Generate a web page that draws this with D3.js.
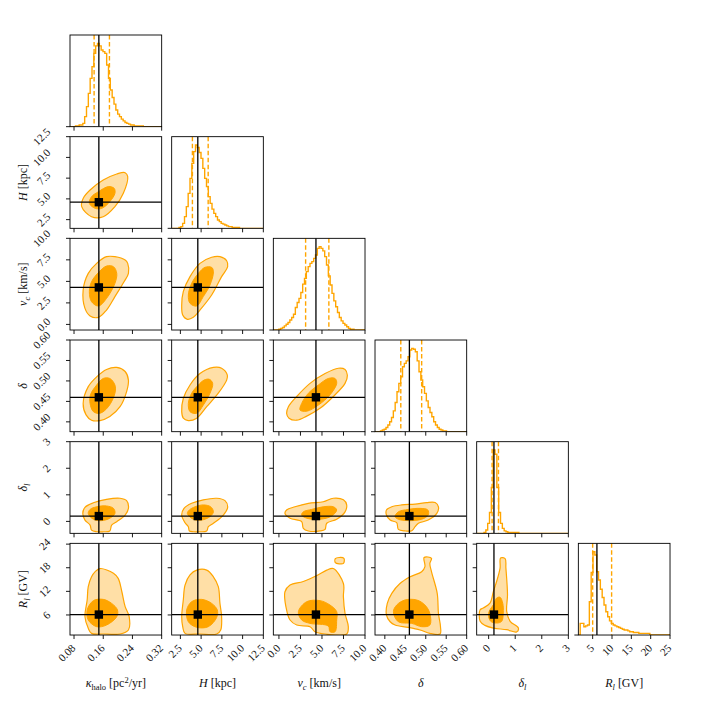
<!DOCTYPE html>
<html><head><meta charset="utf-8">
<script src="https://cdn.jsdelivr.net/npm/d3@7"></script>
<style>body{margin:0;background:#fff} svg{display:block} text{font-family:"Liberation Serif","DejaVu Serif",serif;fill:#111}</style>
</head><body><svg id="c" width="706" height="706"></svg>
<script>
// ---------------- DATA ----------------
const paramNames = ["kappa","H","vc","delta","deltal","Rl"];
const colDomain = [[0.069,0.32],[1.45,12.5],[-0.65,10],[0.376,0.60],[-0.45,3],[1.3,25]];
const rowDomain = [[0.069,0.32],[1.45,12.5],[-0.65,10],[0.376,0.60],[-0.45,3],[0.9,24.2]];
const truths  = [0.148, 4.6, 4.3, 0.46, 0.2, 6.1];
const quantLo = [0.135, 3.95, 3.1, 0.439, 0.13, 5.0];
const quantHi = [0.177, 5.85, 5.8, 0.490, 0.37, 9.9];
const xTickVals = [[0.08,0.16,0.24,0.32],[2.5,5,7.5,10,12.5],[0,2.5,5,7.5,10],[0.40,0.45,0.50,0.55,0.60],[0,1,2,3],[5,10,15,20,25]];
const yTickVals = [[0.08,0.16,0.24,0.32],[2.5,5,7.5,10,12.5],[0,2.5,5,7.5,10],[0.40,0.45,0.50,0.55,0.60],[0,1,2,3],[6,12,18,24]];
const tickFmt = [".2f",".1f",".1f",".2f","d","d"];

// histogram counts (50 bins across each column range)
const histKappa  = [0,0,0,1,1,2,2,4,12,24,40,58,72,88,97,100,97,92,90,88,74,58,44,35,27,20,15,12,9,7,5,4,3,2,2,1,1,1,1,1,0,0,0,0,0,0,0,0,0,0];
const histH      = [0,0,0,0,1,2,6,14,26,42,60,78,92,100,97,91,84,72,60,50,38,30,23,18,14,10,8,6,5,4,3,2,2,1,1,1,1,0,0,0,0,0,0,0,0,0,0,0,0,0];
const histVc     = [0,0,0,1,2,3,5,7,9,12,15,19,27,33,38,45,55,62,70,76,80,82,86,90,98,100,98,95,88,78,65,54,44,35,28,21,15,11,8,6,4,2,1,1,0,0,0,0,0,0];
const histDelta  = [0,0,0,1,2,3,5,8,12,17,25,35,48,58,66,78,82,85,90,98,100,99,96,85,72,62,54,46,37,29,23,18,12,8,5,3,2,1,1,0,0,0,0,0,0,0,0,0,0,0];
const histDeltal = [0,0,0,0,1,4,12,25,55,100,95,55,25,12,6,3,2,1,1,1,1,1,1,0,0,0,0,0,0,0,0,0,0,0,0,0,0,0,0,0,0,0,0,0,0,0,0,0,0,0];
const histRl     = [0,14,14,10,11,12,40,75,100,96,76,66,55,45,36,28,22,17,14,12,11,10,9,8,7,6,6,5,4,4,3,3,3,2,2,2,2,2,2,0,0,0,0,0,0,0,0,0,0,0];

// 2D credible contours (outer = 2 sigma, inner = 1 sigma), data units [x, y]
const H_kappa_outer = [[0.101,4.06],[0.128,2.85],[0.160,2.85],[0.192,4.06],[0.215,5.67],[0.227,7.68],[0.220,8.16],[0.197,8.0],[0.160,7.27],[0.124,6.07],[0.105,5.06]];
const H_kappa_inner = [[0.122,4.46],[0.138,3.86],[0.156,3.86],[0.178,4.67],[0.192,5.67],[0.190,6.27],[0.174,6.48],[0.147,5.87],[0.128,5.26]];
const vc_kappa_outer = [[0.105,4.0],[0.110,1.86],[0.124,0.98],[0.147,0.82],[0.169,1.67],[0.192,3.23],[0.217,4.96],[0.229,5.93],[0.227,7.09],[0.220,7.48],[0.192,7.87],[0.169,7.87],[0.142,7.09],[0.119,5.93]];
const vc_kappa_inner = [[0.122,3.8],[0.128,2.64],[0.147,2.14],[0.169,3.02],[0.192,4.77],[0.197,5.93],[0.188,6.71],[0.169,6.78],[0.149,6.12],[0.128,4.96]];
const vc_H_outer = [[2.66,2.26],[2.78,1.09],[3.34,0.59],[4.06,0.82],[4.86,1.67],[6.27,3.42],[7.47,5.55],[8.2,6.71],[8.08,7.4],[7.27,7.87],[6.27,7.8],[4.86,7.09],[3.66,5.55],[2.85,3.8]];
const vc_H_inner = [[3.46,3.42],[3.66,2.45],[4.47,2.14],[5.26,3.23],[6.07,4.58],[6.48,6.12],[6.27,6.63],[5.47,6.63],[4.67,5.93],[3.86,4.77]];
const delta_kappa_outer = [[0.105,0.445],[0.113,0.417],[0.128,0.404],[0.151,0.403],[0.178,0.413],[0.206,0.437],[0.224,0.474],[0.229,0.502],[0.220,0.523],[0.197,0.533],[0.169,0.528],[0.142,0.510],[0.119,0.486]];
const delta_kappa_inner = [[0.124,0.445],[0.133,0.425],[0.151,0.421],[0.174,0.437],[0.192,0.470],[0.192,0.490],[0.178,0.506],[0.160,0.506],[0.142,0.490],[0.125,0.466]];
const delta_H_outer = [[2.66,0.425],[2.85,0.409],[3.46,0.403],[4.47,0.409],[5.67,0.437],[7.07,0.470],[8.08,0.502],[8.16,0.514],[7.47,0.531],[6.48,0.533],[4.86,0.518],[3.66,0.490],[2.85,0.457]];
const delta_H_inner = [[3.46,0.445],[3.66,0.425],[4.47,0.421],[5.26,0.441],[6.07,0.470],[6.39,0.494],[5.99,0.504],[5.35,0.502],[4.67,0.490],[3.86,0.470]];
const delta_vc_outer = [[0.89,0.421],[1.17,0.409],[2.07,0.404],[3.23,0.414],[4.77,0.433],[6.32,0.462],[7.68,0.494],[7.95,0.514],[7.68,0.528],[6.9,0.531],[5.36,0.518],[3.61,0.494],[2.07,0.462],[1.10,0.437]];
const delta_vc_inner = [[2.45,0.429],[3.23,0.426],[4.58,0.441],[5.93,0.466],[6.71,0.494],[6.52,0.506],[5.74,0.506],[4.58,0.490],[3.42,0.470],[2.64,0.445]];
const deltal_kappa_outer = [[0.104,0.30],[0.110,0.05],[0.124,-0.14],[0.128,-0.33],[0.142,-0.39],[0.160,-0.39],[0.178,-0.36],[0.183,-0.14],[0.197,-0.01],[0.220,0.24],[0.229,0.49],[0.224,0.78],[0.206,0.87],[0.169,0.83],[0.133,0.70],[0.110,0.53]];
const deltal_kappa_inner = [[0.119,0.30],[0.133,0.08],[0.156,0.03],[0.178,0.12],[0.192,0.30],[0.188,0.49],[0.169,0.58],[0.142,0.55],[0.124,0.45]];
const deltal_H_outer = [[2.66,0.24],[3.06,-0.05],[3.46,-0.20],[3.58,-0.36],[4.06,-0.39],[4.86,-0.39],[5.67,-0.36],[5.87,-0.20],[6.48,-0.07],[7.68,0.24],[8.2,0.53],[7.88,0.78],[6.88,0.87],[5.26,0.81],[3.86,0.68],[2.94,0.49]];
const deltal_H_inner = [[3.34,0.30],[4.06,0.08],[5.06,0.05],[6.07,0.18],[6.48,0.36],[6.15,0.55],[5.26,0.62],[4.27,0.55],[3.58,0.43]];
const deltal_vc_outer = [[0.70,0.30],[1.29,0.12],[2.64,-0.01],[2.83,-0.26],[3.42,-0.36],[4.77,-0.36],[5.36,-0.30],[5.55,-0.07],[6.71,0.08],[7.68,0.36],[7.87,0.62],[7.49,0.81],[6.32,0.87],[5.15,0.74],[3.42,0.68],[1.86,0.55],[0.89,0.43]];
const deltal_vc_inner = [[2.64,0.24],[3.23,0.12],[4.77,0.08],[6.12,0.20],[6.71,0.43],[6.32,0.55],[5.15,0.55],[3.80,0.45],[2.83,0.36]];
const deltal_delta_outer = [[0.404,0.24],[0.413,0.05],[0.429,-0.05],[0.433,-0.30],[0.449,-0.36],[0.466,-0.35],[0.474,-0.20],[0.482,-0.07],[0.506,0.05],[0.527,0.30],[0.531,0.55],[0.523,0.71],[0.502,0.71],[0.474,0.65],[0.441,0.62],[0.417,0.55],[0.404,0.43]];
const deltal_delta_inner = [[0.425,0.18],[0.433,0.08],[0.457,0.03],[0.490,0.08],[0.506,0.24],[0.505,0.43],[0.486,0.49],[0.457,0.45],[0.433,0.36]];
const Rl_kappa_outer = [[0.119,13.2],[0.116,9.8],[0.110,5.56],[0.119,2.6],[0.128,1.32],[0.160,1.16],[0.206,1.16],[0.229,2.18],[0.231,5.56],[0.220,8.1],[0.211,11.9],[0.201,15.3],[0.188,16.6],[0.151,17.8],[0.138,17.0],[0.128,15.7]];
const Rl_kappa_inner = [[0.116,7.26],[0.119,4.72],[0.142,3.02],[0.169,3.44],[0.197,5.56],[0.199,7.26],[0.183,8.94],[0.160,9.96],[0.133,9.64]];
const Rl_H_outer = [[3.06,13.6],[2.85,9.8],[2.66,5.56],[2.78,3.02],[3.06,1.32],[4.86,1.16],[6.88,1.16],[7.36,2.18],[7.47,5.56],[7.27,8.94],[7.07,13.2],[6.48,15.7],[5.67,17.4],[4.47,17.4],[3.66,16.2]];
const Rl_H_inner = [[3.26,7.26],[3.46,4.28],[4.47,2.86],[5.87,3.02],[6.88,5.4],[6.95,7.26],[6.27,8.94],[5.06,9.96],[3.86,9.38]];
const Rl_vc_outer = [[0.70,11.9],[0.89,7.26],[1.29,4.72],[2.07,3.44],[3.61,3.02],[4.19,1.74],[5.36,1.16],[7.87,1.16],[8.06,3.02],[7.68,6.4],[7.49,10.6],[7.49,14.0],[6.32,17.8],[5.55,17.4],[4.58,16.2],[2.83,14.5],[1.29,13.6]];
const Rl_vc_island = [[6.55,20.3],[6.55,19.3],[7.0,19.0],[7.5,19.1],[7.55,20.4],[7.0,20.6]];
const Rl_vc_inner = [[2.26,6.84],[2.64,4.72],[3.61,3.86],[5.74,3.18],[5.93,1.74],[6.52,1.74],[6.71,4.72],[6.71,6.84],[5.93,8.52],[4.77,9.64],[3.23,9.38]];
const Rl_delta_outer = [[0.404,5.98],[0.413,4.28],[0.425,3.44],[0.457,2.86],[0.486,2.18],[0.510,1.32],[0.535,1.16],[0.536,3.02],[0.531,6.4],[0.528,11.5],[0.514,17.0],[0.510,19.1],[0.514,20.4],[0.496,20.6],[0.498,18.3],[0.490,17.0],[0.462,15.7],[0.437,14.0],[0.417,11.5],[0.406,8.94]];
const Rl_delta_inner = [[0.421,6.84],[0.433,4.28],[0.466,3.86],[0.490,3.02],[0.510,3.44],[0.510,6.4],[0.498,8.52],[0.478,9.8],[0.449,9.8],[0.429,8.52]];
const Rl_deltal_outer = [[-0.32,7.33],[-0.32,4.37],[-0.14,3.35],[0.18,2.67],[0.68,2.25],[1.05,1.67],[1.12,2.67],[0.81,4.37],[0.68,6.91],[0.71,11.15],[0.65,17.9],[0.62,20.3],[0.45,20.5],[0.43,17.9],[0.30,14.5],[0.18,12.0],[0.05,9.0],[-0.20,7.77]];
const Rl_deltal_inner = [[-0.01,6.07],[0.08,4.37],[0.30,3.95],[0.49,4.37],[0.55,6.5],[0.53,9.0],[0.43,10.5],[0.30,10.3],[0.18,8.6],[0.05,7.33]];

const axisLabels = [
  [["κ","i"],["halo","sub-r"],[" [pc","r"],["2","sup"],["/yr]","r"]],
  [["H","i"],[" [kpc]","r"]],
  [["v","i"],["c","sub-i"],[" [km/s]","r"]],
  [["δ","i"]],
  [["δ","i"],["l","sub-i"]],
  [["R","i"],["l","sub-i"],[" [GV]","r"]]
];

// ---------------- BUILD ----------------
const hists = [histKappa, histH, histVc, histDelta, histDeltal, histRl];
const contourPanels = [
  {r:1,c:0,outer:[H_kappa_outer],inner:[H_kappa_inner]},
  {r:2,c:0,outer:[vc_kappa_outer],inner:[vc_kappa_inner]},
  {r:2,c:1,outer:[vc_H_outer],inner:[vc_H_inner]},
  {r:3,c:0,outer:[delta_kappa_outer],inner:[delta_kappa_inner]},
  {r:3,c:1,outer:[delta_H_outer],inner:[delta_H_inner]},
  {r:3,c:2,outer:[delta_vc_outer],inner:[delta_vc_inner]},
  {r:4,c:0,outer:[deltal_kappa_outer],inner:[deltal_kappa_inner]},
  {r:4,c:1,outer:[deltal_H_outer],inner:[deltal_H_inner]},
  {r:4,c:2,outer:[deltal_vc_outer],inner:[deltal_vc_inner]},
  {r:4,c:3,outer:[deltal_delta_outer],inner:[deltal_delta_inner]},
  {r:5,c:0,outer:[Rl_kappa_outer],inner:[Rl_kappa_inner]},
  {r:5,c:1,outer:[Rl_H_outer],inner:[Rl_H_inner]},
  {r:5,c:2,outer:[Rl_vc_outer,Rl_vc_island],inner:[Rl_vc_inner]},
  {r:5,c:3,outer:[Rl_delta_outer],inner:[Rl_delta_inner]},
  {r:5,c:4,outer:[Rl_deltal_outer],inner:[Rl_deltal_inner]}
];

const N = 6, left0 = 70, top0 = 35, size = 91.67, step = 101.67;
const orange = "#ffa500", light = "#ffdfa6";
const svg = d3.select("#c");
const xS = j => d3.scaleLinear().domain(colDomain[j]).range([0, size]);
const yS = i => d3.scaleLinear().domain(rowDomain[i]).range([size, 0]);
const TL = 4;

function panel(i, j) {
  const g = svg.append("g").attr("transform", `translate(${left0 + j*step},${top0 + i*step})`);
  const id = `clip${i}${j}`;
  g.append("clipPath").attr("id", id).append("rect").attr("width", size).attr("height", size);
  const inner = g.append("g").attr("clip-path", `url(#${id})`);
  return {g, inner};
}

// diagonal histograms
for (let k = 0; k < N; k++) {
  const {g, inner} = panel(k, k);
  const x = xS(k);
  const counts = hists[k];
  const [lo, hi] = colDomain[k];
  const w = (hi - lo) / counts.length;
  const y = d3.scaleLinear().domain([0, 1.1 * d3.max(counts)]).range([size, 0]);
  const pts = [[lo, 0]];
  counts.forEach((c, b) => { pts.push([lo + b*w, c]); pts.push([lo + (b+1)*w, c]); });
  pts.push([hi, 0]);
  inner.append("path").attr("d", d3.line().x(d => x(d[0])).y(d => y(d[1]))(pts))
    .attr("fill", "none").attr("stroke", orange).attr("stroke-width", 1.4).attr("stroke-linejoin", "miter");
  [quantLo[k], quantHi[k]].forEach(q => {
    inner.append("line").attr("x1", x(q)).attr("x2", x(q)).attr("y1", 0).attr("y2", size)
      .attr("stroke", orange).attr("stroke-width", 1.4).attr("stroke-dasharray", "4.5,2.5");
  });
  inner.append("line").attr("x1", x(truths[k])).attr("x2", x(truths[k])).attr("y1", 0).attr("y2", size)
    .attr("stroke", "#000").attr("stroke-width", 1.3);
  g.append("line").attr("x1", -TL).attr("x2", 0).attr("y1", y(0)).attr("y2", y(0)).attr("stroke", "#000").attr("stroke-width", 0.9);
}

// 2D panels
const curve = d3.line().curve(d3.curveCatmullRomClosed.alpha(0.5));
contourPanels.forEach(p => {
  const {g, inner} = panel(p.r, p.c);
  const x = xS(p.c), y = yS(p.r);
  const toPx = poly => poly.map(d => [x(d[0]), y(d[1])]);
  p.outer.forEach(poly => inner.append("path").attr("d", curve(toPx(poly)))
    .attr("fill", light).attr("stroke", orange).attr("stroke-width", 1.2));
  p.inner.forEach(poly => inner.append("path").attr("d", curve(toPx(poly)))
    .attr("fill", orange).attr("stroke", orange).attr("stroke-width", 1.0));
  const tx = x(truths[p.c]), ty = y(truths[p.r]);
  inner.append("line").attr("x1", tx).attr("x2", tx).attr("y1", 0).attr("y2", size).attr("stroke", "#000").attr("stroke-width", 1.3);
  inner.append("line").attr("x1", 0).attr("x2", size).attr("y1", ty).attr("y2", ty).attr("stroke", "#000").attr("stroke-width", 1.3);
  inner.append("rect").attr("x", tx - 4.2).attr("y", ty - 4.2).attr("width", 8.4).attr("height", 8.4).attr("fill", "#000");
  yTickVals[p.r].forEach(v => {
    g.append("line").attr("x1", -TL).attr("x2", 0).attr("y1", y(v)).attr("y2", y(v)).attr("stroke", "#000").attr("stroke-width", 0.9);
  });
});

// frames, x ticks
for (let i = 0; i < N; i++) {
  for (let j = 0; j <= i; j++) {
    const g = svg.append("g").attr("transform", `translate(${left0 + j*step},${top0 + i*step})`);
    g.append("rect").attr("width", size).attr("height", size).attr("fill", "none").attr("stroke", "#000").attr("stroke-width", 0.9);
    const x = xS(j);
    xTickVals[j].forEach(v => {
      g.append("line").attr("x1", x(v)).attr("x2", x(v)).attr("y1", size).attr("y2", size + TL).attr("stroke", "#000").attr("stroke-width", 0.9);
    });
  }
}

// bottom x tick labels
for (let j = 0; j < N; j++) {
  const x = xS(j), fmt = d3.format(tickFmt[j]);
  const ox = left0 + j*step, by = top0 + 5*step + size;
  xTickVals[j].forEach(v => {
    svg.append("text").attr("text-anchor", "end").attr("font-size", 11).attr("dy", "0.35em")
      .attr("transform", `translate(${ox + x(v) - 0.5},${by + 11}) rotate(-45)`).text(fmt(v));
  });
}
// left y tick labels
for (let i = 1; i < N; i++) {
  const y = yS(i), fmt = d3.format(tickFmt[i]);
  const oy = top0 + i*step;
  yTickVals[i].forEach(v => {
    const t = svg.append("text").attr("text-anchor", "end").attr("font-size", 11).attr("dy", "0.35em").text(fmt(v));
    const L = t.node().getComputedTextLength();
    t.attr("transform", `translate(${48.5},${oy + y(v) - 0.354*L}) rotate(-45)`);
  });
}

function addLabel(sel, segs) {
  let shift = 0;
  segs.forEach(([t, s]) => {
    const target = s.startsWith("sub") ? 3 : (s === "sup" ? -4.5 : 0);
    sel.append("tspan").text(t).attr("dy", target - shift)
      .attr("font-size", target !== 0 ? 8.5 : 12)
      .attr("font-style", (s === "i" || s === "sub-i") ? "italic" : "normal");
    shift = target;
  });
}
// axis labels
for (let j = 0; j < N; j++) {
  const t = svg.append("text").attr("text-anchor", "middle").attr("x", left0 + j*step + size/2).attr("y", 687);
  addLabel(t, axisLabels[j]);
}
for (let i = 1; i < N; i++) {
  const t = svg.append("text").attr("text-anchor", "middle")
    .attr("transform", `translate(27,${top0 + i*step + size/2}) rotate(-90)`);
  addLabel(t, axisLabels[i]);
}
</script></body></html>
